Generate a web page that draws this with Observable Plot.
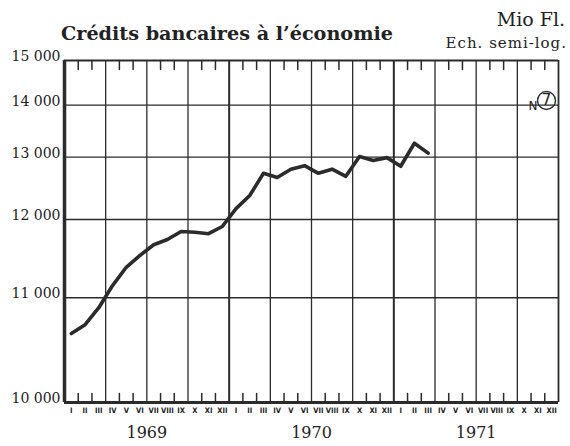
<!DOCTYPE html>
<html>
<head>
<meta charset="utf-8">
<script src="https://cdn.jsdelivr.net/npm/d3@7"></script>
<script src="https://cdn.jsdelivr.net/npm/@observablehq/plot@0.6"></script>
<style>
  html, body { margin: 0; padding: 0; background: #fff; }
  #wrap { position: relative; width: 570px; height: 446px; overflow: hidden; }
  #chart { position: absolute; left: 0; top: 0; }
  .t { position: absolute; color: #222; white-space: nowrap; line-height: 1; }
  #title { left: 61px; top: 22px; font: bold 19.2px "DejaVu Serif", serif; }
  #unit { right: 5px; top: 8px; font: 19px "DejaVu Serif", serif; }
  #scale { right: 3px; top: 34px; font: 15px "DejaVu Serif", serif; letter-spacing: 1px; }
</style>
</head>
<body>
<div id="wrap">
  <div id="chart"></div>
  <div class="t" id="title">Crédits bancaires à l’économie</div>
  <div class="t" id="unit">Mio Fl.</div>
  <div class="t" id="scale">Ech. semi-log.</div>
</div>
<script>
// Months (roman numerals) and years
const months = ["I","II","III","IV","V","VI","VII","VIII","IX","X","XI","XII"];
const years = ["1969", "1970", "1971"];
// Bank credit to the economy, million florins, Jan 1969 .. Mar 1971
const credits = [10620, 10710, 10890, 11140, 11360, 11510, 11650, 11720, 11830, 11820, 11800, 11900,
                 12160, 12360, 12720, 12650, 12790, 12850, 12720, 12790, 12670, 13010, 12940, 12990,
                 12840, 13250, 13070];
// Y tick values
const yTicks = [10000, 11000, 12000, 13000, 14000, 15000];

const ink = "#2b2b2b";
const data = credits.map((v, i) => ({t: i + 0.5, v}));
const nMonths = months.length * years.length;
const boundaries = d3.range(0, nMonths + 1);
const monthTicks = boundaries.filter(d => d % 3 !== 0);
const quarterLines = boundaries.filter(d => d % 3 === 0 && d % 12 !== 0);
const yearLines = boundaries.filter(d => d % 12 === 0 && d > 0 && d < nMonths);
const fmt = d => d3.format(",")(d).replace(",", " ");
const spike = {draw(ctx, l) { ctx.moveTo(0, 0); ctx.lineTo(0, -l); }};

const chart = Plot.plot({
  width: 570,
  height: 446,
  marginLeft: 64,
  marginRight: 12,
  marginTop: 60,
  marginBottom: 44,
  style: {background: "transparent"},
  x: {type: "linear", axis: null},
  y: {type: "log", axis: null, transform: v => v - 7500},
  marks: [
    Plot.ruleY(yTicks.slice(1, -1), {stroke: ink, strokeWidth: 1.3}),
    Plot.ruleX(quarterLines, {stroke: ink, strokeWidth: 1.3}),
    Plot.ruleX(yearLines, {stroke: ink, strokeWidth: 2}),
    Plot.ruleX([0], {stroke: ink, strokeWidth: 3.5}),
    Plot.ruleX([nMonths], {stroke: ink, strokeWidth: 1.8}),
    Plot.ruleY([yTicks[0]], {stroke: ink, strokeWidth: 3}),
    Plot.ruleY([yTicks[yTicks.length - 1]], {stroke: ink, strokeWidth: 2}),
    Plot.vector(monthTicks, {x: d => d, frameAnchor: "bottom", length: 9, rotate: 0, anchor: "start", shape: spike, stroke: ink, strokeWidth: 1.5}),
    Plot.vector(monthTicks, {x: d => d, frameAnchor: "top", length: 9, rotate: 180, anchor: "start", shape: spike, stroke: ink, strokeWidth: 1.5}),
    Plot.line(data, {x: "t", y: "v", stroke: ink, strokeWidth: 3.6, strokeLinejoin: "round", strokeLinecap: "round"}),
    Plot.text(yTicks, {y: d => d, frameAnchor: "left", dx: -4, dy: -4, textAnchor: "end", text: fmt,
      fontSize: 14, fontFamily: "DejaVu Serif", fill: "#222"}),
    Plot.text(d3.range(nMonths), {x: d => d + 0.5, frameAnchor: "bottom", dy: 10, text: d => months[d % 12],
      fontSize: 7.5, fontWeight: "bold", fontFamily: "Liberation Sans Narrow, DejaVu Sans Condensed", fill: "#222"}),
    Plot.text(years, {x: (d, i) => i * 12 + 6, frameAnchor: "bottom", dy: 35, text: d => d,
      fontSize: 16, fontFamily: "DejaVu Serif", fill: "#222"}),
    Plot.text(["N"], {frameAnchor: "top-right", dx: -21, dy: 49, lineAnchor: "bottom", textAnchor: "end", text: d => d, fontSize: 12, fontFamily: "DejaVu Sans", fill: "#222"}),
    Plot.dot([0], {frameAnchor: "top-right", dx: -12, dy: 40, r: 9, stroke: ink, strokeWidth: 1.4, fill: "none"}),
    Plot.text(["7"], {frameAnchor: "top-right", dx: -12, dy: 40, textAnchor: "middle", lineAnchor: "middle", text: d => d, fontSize: 15, fontFamily: "DejaVu Sans", fill: "#222"})
  ]
});
document.getElementById("chart").appendChild(chart);
</script>
</body>
</html>
